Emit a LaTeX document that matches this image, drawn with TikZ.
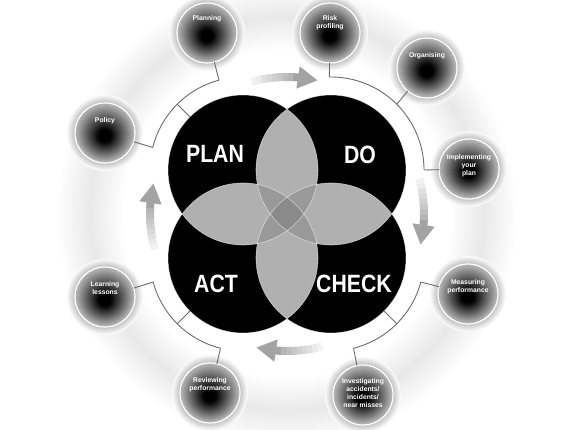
\documentclass[tikz,border=0pt]{standalone}
\usepackage{fontspec}
\setmainfont{Liberation Sans}
\usetikzlibrary{arrows.meta,bending,calc}
\colorlet{lensgray}{black!31}
\colorlet{trigray}{black!40}
\colorlet{quadgray}{black!46}
\newcommand\cyclearrow[1]{%
 \foreach \k in {0,...,7} {%
   \pgfmathtruncatemacro\gc{5+3.5*\k}%
   \pgfmathsetmacro\sa{#1+15-2.2*\k}%
   \pgfmathsetmacro\ea{#1+15-2.2*(\k+1)-0.4}%
   \draw[cyc,black!\gc] ($(C)+(\sa:137)$) arc[start angle=\sa,end angle=\ea,radius=137];}
 \draw[cyc,black!36,-{Triangle[length=20pt,width=21pt]}] ($(C)+({#1-2.6}:137)$) arc[start angle={#1-2.6},end angle={#1-13},radius=137];
}
\newcommand\spherebg[1]{%
 \foreach \k in {0,...,8} {\pgfmathtruncatemacro\hc{2+3*\k}\fill[black!\hc] (#1) circle ({38-\k});}
 \foreach \k in {0,...,19} {\pgfmathtruncatemacro\cc{min(100,30+4.5*\k)}\fill[black!\cc] ($(#1)+(0,{-0.2*\k})$) circle ({29.5-1.45*\k});}
}
\begin{document}
\begin{tikzpicture}[x=1pt,y=1pt,
 conn/.style={draw=black!58,line width=0.9pt},
 big/.style={circle,fill=black,minimum size=150pt,inner sep=0pt,outer sep=0pt},
 sat/.style={circle,minimum size=60pt,inner sep=0pt,outer sep=0pt,draw=white,line width=1.2pt},
 satlabel/.style={inner sep=0pt,text=white,align=center,font=\bfseries\fontsize{6.8}{8}\selectfont},
 biglabel/.style={text=white,inner sep=0pt,font=\bfseries\fontsize{25}{25}\selectfont},
 cyc/.style={line width=8pt}]
\useasboundingbox (0,0) rectangle (570,430);
\coordinate (C) at (287,216);
% soft band
\foreach \w in {64,58,...,4} \draw[line width=\w pt, black, opacity=0.007] (C) circle (197);
% big circles
\node[big] (PLAN) at (243,260) {};
\node[big] (DO) at (331,260) {};
\node[big] (ACT) at (243,172) {};
\node[big] (CHECK) at (331,172) {};
% lenses
\begin{scope}\clip (PLAN.center) circle (75); \fill[lensgray] (DO.center) circle (75); \fill[lensgray] (ACT.center) circle (75);\end{scope}
\begin{scope}\clip (CHECK.center) circle (75); \fill[lensgray] (DO.center) circle (75); \fill[lensgray] (ACT.center) circle (75);\end{scope}
% triple overlaps
\begin{scope}\clip (PLAN.center) circle (75); \clip (DO.center) circle (75); \fill[trigray] (ACT.center) circle (75); \fill[trigray] (CHECK.center) circle (75);\end{scope}
\begin{scope}\clip (ACT.center) circle (75); \clip (CHECK.center) circle (75); \fill[trigray] (PLAN.center) circle (75); \fill[trigray] (DO.center) circle (75);\end{scope}
\begin{scope}\clip (PLAN.center) circle (75); \clip (DO.center) circle (75); \clip (ACT.center) circle (75); \fill[quadgray] (CHECK.center) circle (75);\end{scope}
\foreach \c in {PLAN,DO,ACT,CHECK} \draw[white,opacity=0.55,line width=0.6pt] (\c.center) circle (75);
% labels
\node[biglabel] (planlbl) at (215,276) {\scalebox{0.85}[1]{PLAN}};
\node[biglabel] (dolbl) at (360,275) {\scalebox{0.85}[1]{DO}};
\node[biglabel] (actlbl) at (216,146) {\scalebox{0.85}[1]{ACT}};
\node[biglabel] (checklbl) at (354,146) {\scalebox{0.85}[1]{CHECK}};
% cycle arrows
\cyclearrow{90}
\cyclearrow{0}
\cyclearrow{-90}
\cyclearrow{180}
% spheres
\spherebg{207,397}
\spherebg{330,397}
\spherebg{427,362}
\spherebg{469,261}
\spherebg{468,136}
\spherebg{363,35}
\spherebg{210,37}
\spherebg{105,133}
\spherebg{105,297}
\node[sat] (planning) at (207,397) {};
\node[sat] (risk) at (330,397) {};
\node[sat] (organising) at (427,362) {};
\node[sat] (implementing) at (469,261) {};
\node[sat] (measuring) at (468,136) {};
\node[sat] (investigating) at (363,35) {};
\node[sat] (reviewing) at (210,37) {};
\node[sat] (learning) at (105,133) {};
\node[sat] (policy) at (105,297) {};
\node[satlabel,anchor=north] (planningtxt) at ($(planning)+(0,18)$) {Planning};
\node[satlabel,anchor=north] (risktxt) at ($(risk)+(0,18)$) {Risk\\profiling};
\node[satlabel,anchor=north] (organisingtxt) at ($(organising)+(0,16)$) {Organising};
\node[satlabel,anchor=north] (implementingtxt) at ($(implementing)+(0,15)$) {Implementing\\your\\plan};
\node[satlabel,anchor=north] (measuringtxt) at ($(measuring)+(0,15)$) {Measuring\\performance};
\node[satlabel,anchor=north] (investigatingtxt) at ($(investigating)+(0,17)$) {Investigating\\accidents/\\incidents/\\near misses};
\node[satlabel,anchor=north] (reviewingtxt) at ($(reviewing)+(0,16)$) {Reviewing\\performance};
\node[satlabel,anchor=north] (learningtxt) at ($(learning)+(0,16)$) {Learning\\lessons};
\node[satlabel,anchor=north] (policytxt) at ($(policy)+(0,16)$) {Policy};
% connector arcs
\coordinate (pA) at ($(PLAN.center)+(105:93)$);
\coordinate (pB) at ($(PLAN.center)+(166:93)$);
\coordinate (pT1) at ($(PLAN.center)+(135:75)$);
\coordinate (pT2) at ($(PLAN.center)+(135:93)$);
\draw[conn] (pA) arc[start angle=105,end angle=166,radius=93];
\draw[conn] (pA) -- (planning);
\draw[conn] (pB) -- (policy);
\draw[conn] (pT1) -- (pT2);
\coordinate (dA) at ($(DO.center)+(91:93)$);
\coordinate (dB) at ($(DO.center)+(45:93)$);
\coordinate (dC) at ($(DO.center)+(0:93)$);
\draw[conn] (dA) arc[start angle=91,end angle=0,radius=93];
\draw[conn] (dA) -- (risk);
\draw[conn] (dB) -- (organising);
\draw[conn] (dC) -- (implementing);
\coordinate (cA) at ($(CHECK.center)+(-15:93)$);
\coordinate (cB) at ($(CHECK.center)+(-76:93)$);
\coordinate (cT1) at ($(CHECK.center)+(-45:75)$);
\coordinate (cT2) at ($(CHECK.center)+(-45:93)$);
\draw[conn] (cA) arc[start angle=-15,end angle=-76,radius=93];
\draw[conn] (cA) -- (measuring);
\draw[conn] (cB) -- (investigating);
\draw[conn] (cT1) -- (cT2);
\coordinate (aA) at ($(ACT.center)+(195:93)$);
\coordinate (aB) at ($(ACT.center)+(256:93)$);
\coordinate (aT1) at ($(ACT.center)+(225:75)$);
\coordinate (aT2) at ($(ACT.center)+(225:93)$);
\draw[conn] (aA) arc[start angle=195,end angle=256,radius=93];
\draw[conn] (aA) -- (learning);
\draw[conn] (aB) -- (reviewing);
\draw[conn] (aT1) -- (aT2);
\end{tikzpicture}
\end{document}
